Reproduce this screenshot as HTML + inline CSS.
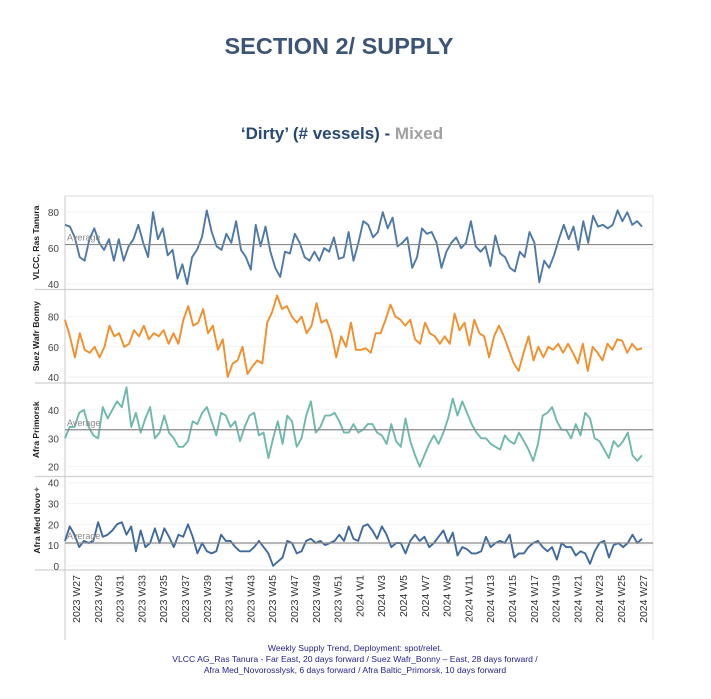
<!DOCTYPE html>
<html><head><meta charset="utf-8"><style>
html,body{margin:0;padding:0;background:#fff;}
svg{display:block;font-family:"Liberation Sans",Arial,sans-serif;}
</style></head><body>
<svg id="chart" width="711" height="699" viewBox="0 0 711 699" xmlns="http://www.w3.org/2000/svg">
<text x="339" y="54" text-anchor="middle" font-size="23.5" font-weight="bold" fill="#3d5575">SECTION 2/ SUPPLY</text>
<text x="342" y="139" text-anchor="middle" font-size="17" font-weight="bold" fill="#264a73">‘Dirty’ (# vessels) - <tspan fill="#a0a0a0">Mixed</tspan></text>
<g id="frame"></g>
<g id="panels"></g>
<g id="xaxis"></g>
<g font-size="8.6" fill="#23238e" text-anchor="middle">
<text x="355" y="651">Weekly Supply Trend, Deployment: spot/relet.</text>
<text x="355" y="662">VLCC AG_Ras Tanura - Far East, 20 days forward / Suez Wafr_Bonny – East, 28 days forward /</text>
<text x="355" y="673">Afra Med_Novorosslysk, 6 days forward / Afra Baltic_Primorsk, 10 days forward</text>
</g>
</svg>
<script>
const weekLabels = ["2023 W27","2023 W29","2023 W31","2023 W33","2023 W35","2023 W37","2023 W39","2023 W41","2023 W43","2023 W45","2023 W47","2023 W49","2023 W51","2024 W1","2024 W3","2024 W5","2024 W7","2024 W9","2024 W11","2024 W13","2024 W15","2024 W17","2024 W19","2024 W21","2024 W23","2024 W25","2024 W27"];
const panelNames = ["VLCC, Ras Tanura","Suez Wafr Bonny","Afra Primorsk","Afra Med Novo"];
const vlcc = [73,72,66,55,53,65,71,63,59,65,53,65,53,61,65,73,63,55,80,65,71,56,59,43,51,40,55,59,66,81,69,61,59,68,63,75,59,55,48,73,61,72,58,49,44,58,57,68,63,55,53,58,53,60,58,66,54,
55,69,53,63,75,73,66,69,80,71,77,61,63,66,49,55,71,68,69,63,49,58,63,66,60,63,75,61,58,61,50,67,57,55,49,47,58,55,69,63,41,53,49,56,65,73,65,72,59,75,63,78,72,73,71,73,81,75,80,73,75,72];
const suez = [78,67,53,69,58,56,60,53,60,74,67,69,60,62,71,67,74,65,69,67,71,62,69,62,78,87,74,76,85,69,74,58,65,40,49,51,60,42,47,51,49,76,83,94,85,87,80,76,80,69,74,89,76,78,69,53,67,60,76,58,
58,59,56,69,69,78,88,80,78,74,78,65,62,76,69,67,62,67,62,82,71,76,61,78,69,67,53,67,74,67,58,49,44,56,67,51,60,53,60,58,62,56,62,56,49,62,44,60,56,51,62,58,65,64,56,62,58,59];
const primorsk = [30,34,34,39,40,34,31,30,41,37,40,43,41,48,34,39,32,37,41,30,32,38,32,30,27,27,29,36,35,39,41,36,31,39,38,34,36,29,34,38,39,31,32,23,30,36,28,38,36,27,30,38,43,32,34,38,38,39,36,32,32,35,
32,33,35,35,32,31,28,35,29,27,37,29,24,20,24,28,31,28,32,37,44,38,43,39,35,32,30,30,28,27,26,31,29,28,32,29,26,22,28,38,39,41,36,33,33,30,35,31,39,37,30,29,26,23,29,27,29,32,24,22,24];
const medNovo = [12,19,15,9,12,11,12,21,14,15,17,20,21,15,19,7,17,9,11,18,11,18,14,9,15,14,20,14,6,11,7,6,7,15,12,12,9,7,7,7,9,12,9,6,0,2,4,12,11,6,7,12,13,11,12,10,11,12,15,12,19,
13,12,19,20,17,13,19,15,9,11,11,6,12,15,12,14,9,11,14,17,11,16,5,9,8,6,6,7,14,9,11,12,11,15,4,6,6,9,11,12,9,7,9,3,11,9,9,5,7,6,1,7,11,12,4,10,11,9,11,15,11,13];
const panelSeries = [vlcc, suez, primorsk, medNovo];
const panelTicks = [[40,60,80],[40,60,80],[20,30,40],[0,10,20,30,40]];
const panelAverages = [62,null,33,11];
const panelDomains = [[37,89],[36,98],[16.5,49.5],[-2,43]];
const panelColors = ["#4e79a7","#f28e2b","#6fb8ac","#3f6a9e"];
const panelSeriesNames = ["vlcc-line","suez-line","primorsk-line","med-novo-line"];

const NS = "http://www.w3.org/2000/svg";
const L = 65, R = 653, TOP = 196, PH = 93.5;
const X0 = 65, X1 = 642;
function mk(tag, attrs, parent){const e=document.createElementNS(NS,tag);for(const k in attrs)e.setAttribute(k,attrs[k]);parent.appendChild(e);return e;}
const frame = document.getElementById("frame");
const panels = document.getElementById("panels");
const xaxis = document.getElementById("xaxis");

mk("line",{x1:L,y1:TOP,x2:R,y2:TOP,stroke:"#dcdcdc"},frame);
mk("line",{x1:R,y1:TOP,x2:R,y2:640,stroke:"#e4e4e4"},frame);
const ax = mk("line",{x1:L,y1:TOP,x2:L,y2:640,stroke:"#c8c8c8"},frame);



panelSeries.forEach((data, p) => {
  const top = TOP + p*PH, bot = top + PH;
  const [d0,d1] = panelDomains[p];
  const y = v => bot - (v - d0)/(d1 - d0)*PH;
  const x = i => X0 + i*(X1 - X0)/(data.length - 1);
  const g = mk("g",{},panels);
  
  
  const sep = mk("line",{x1:L-30,y1:bot,x2:R,y2:bot,stroke:"#d0d0d0","stroke-width":1.3},g);
  
  
  panelTicks[p].forEach(t => {
    mk("line",{x1:L,y1:y(t),x2:R,y2:y(t),stroke:"#f2f2f2"},g);
    const tl = mk("text",{x:59,y:y(t)+4,"text-anchor":"end","font-size":10,fill:"#444"},g);
    tl.textContent = t;
    
    
  });
  const lbl = mk("text",{transform:`translate(${p===3?40:39},${(top+bot)/2}) rotate(-90)`,"text-anchor":"middle","font-size":8.6,"font-weight":"bold",fill:"#222"},g);
  lbl.textContent = panelNames[p];
  
  
  if (p===3){
    const pin = mk("text",{transform:`translate(40,${top+13}) rotate(-90)`,"text-anchor":"middle","font-size":9,fill:"#777"},g);
    pin.textContent = "✦";
    
    
  }
  const pts = data.map((v,i)=>x(i).toFixed(1)+","+y(v).toFixed(1)).join(" ");
  const line = mk("polyline",{points:pts,fill:"none",stroke:panelColors[p],"stroke-width":1.9,"stroke-linejoin":"round"},g);
  
  
  if (panelAverages[p] !== null){
    const av = panelAverages[p];
    const al = mk("line",{x1:L,y1:y(av),x2:R,y2:y(av),stroke:"#8a8a8a","stroke-width":1.2},g);
    
    
    if (p!==1){
      const at = mk("text",{x:67,y:y(av)-4,"font-size":9,fill:"#8a8a8a"},g);
      at.textContent = "Average";
      
      
    }
  }
});

weekLabels.forEach((w,i) => {
  const xx = 76 + i*21.8;
  const t = mk("text",{transform:`translate(${xx+4},575) rotate(-90)`,"text-anchor":"end","font-size":10.5,fill:"#333"},xaxis);
  t.textContent = w;
  
  
});
</script>
</body></html>
